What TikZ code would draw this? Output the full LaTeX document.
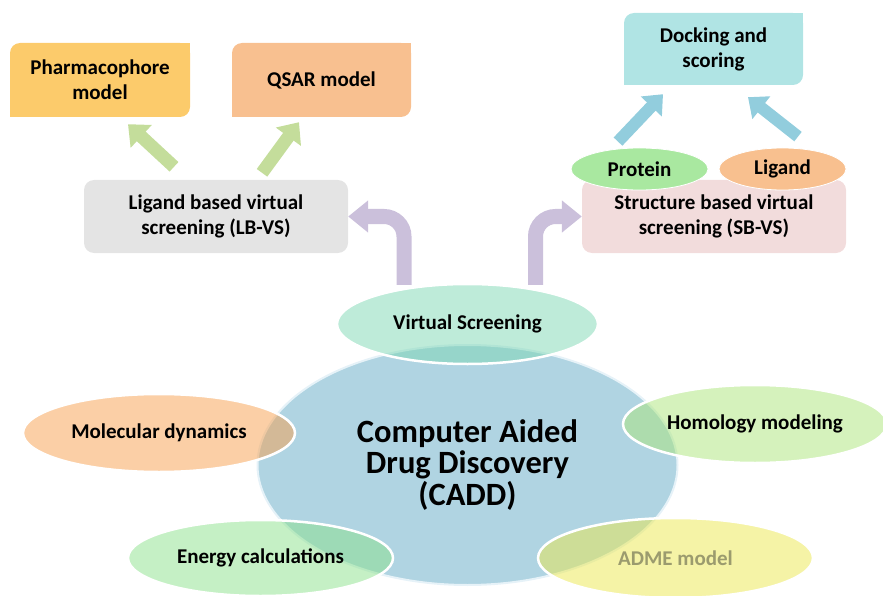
\documentclass[tikz,border=0pt]{standalone}
\usepackage{fontspec}
\setmainfont{Carlito}
\usepackage{tikz}
\usetikzlibrary{shapes.geometric,arrows.meta}
\definecolor{pharmfill}{RGB}{252,203,107}
\definecolor{qsarfill}{RGB}{248,192,144}
\definecolor{dockfill}{RGB}{176,228,228}
\definecolor{lbfill}{RGB}{228,228,228}
\definecolor{sbfill}{RGB}{242,220,220}
\definecolor{protfill}{RGB}{169,232,160}
\definecolor{ligfill}{RGB}{248,192,143}
\definecolor{garrow}{RGB}{196,221,155}
\definecolor{barrow}{RGB}{146,205,221}
\definecolor{parrow}{RGB}{203,192,219}
\definecolor{caddfill}{RGB}{176,212,226}
\definecolor{caddline}{RGB}{230,242,248}
\definecolor{mdfill}{RGB}{247,159,77}
\definecolor{enfill}{RGB}{139,225,139}
\definecolor{homfill}{RGB}{171,229,121}
\definecolor{admefill}{RGB}{235,231,77}
\definecolor{admetext}{RGB}{155,155,110}
\definecolor{vsfill}{RGB}{125,215,179}

\begin{document}
\begin{tikzpicture}[x=1pt, y=-1pt, font=\fontsize{21}{25}\selectfont\bfseries,
  box/.style={rounded corners=10pt, align=center, inner sep=0pt, minimum width=180pt, minimum height=74pt},
  oval/.style={ellipse, inner sep=0pt, align=center, draw=white, line width=2.5pt, fill opacity=0.5, text opacity=1},
  tag/.style={ellipse, inner sep=0pt, draw=white, line width=0.8pt},
  garr/.style={-{Triangle[length=18pt,width=30pt]}, line width=13pt, draw=garrow},
  barr/.style={-{Triangle[length=17pt,width=28pt]}, line width=12pt, draw=barrow},
  parr/.style={-{Triangle[length=20pt,width=31pt]}, line width=15pt, draw=parrow, rounded corners=20pt}]
\useasboundingbox (0,0) rectangle (883,596);
\node[box, fill=pharmfill] (pharm) at (100,80) {Pharmacophore\\model};
\node[box, fill=qsarfill, minimum width=179pt] (qsar) at (321.5,80) {QSAR model};
\node[box, fill=dockfill, minimum width=179pt, minimum height=72pt] (dock) at (713.5,49) {Docking and\\scoring};
\foreach \n/\c in {pharm/pharmfill, qsar/qsarfill, dock/dockfill} {
  \fill[\c] (\n.north east) rectangle ++(-12,12);
  \fill[\c] (\n.south west) rectangle ++(12,-12);
}
\node[box, fill=lbfill, minimum width=264pt, minimum height=73pt] (lbvs) at (216,216.5) {Ligand based virtual\\screening (LB-VS)};
\node[box, fill=sbfill, minimum width=264pt, minimum height=73pt] (sbvs) at (714,216.5) {Structure based virtual\\screening (SB-VS)};
\node[tag, fill=protfill, minimum width=137pt, minimum height=42pt] (prot) at (639.5,169) {Protein};
\node[tag, fill=ligfill, minimum width=127pt, minimum height=42pt] (lig) at (782.5,169) {Ligand};
\draw[garr] ([xshift=-42pt,yshift=13pt]lbvs.north) -- ([xshift=28pt,yshift=-7pt]pharm.south);
\draw[garr] ([xshift=46pt,yshift=7pt]lbvs.north) -- ([xshift=-22.5pt,yshift=-5pt]qsar.south);
\draw[barr] ([xshift=-21.5pt,yshift=6pt]prot.north) -- ([xshift=-50.5pt,yshift=-9pt]dock.south);
\draw[barr] ([xshift=15.5pt,yshift=11pt]lig.north) -- ([xshift=34.5pt,yshift=-12pt]dock.south);
\node[ellipse, fill=caddfill, draw=caddline, line width=2pt, minimum width=420pt, minimum height=240pt, inner sep=0pt, align=center, font=\fontsize{32.5}{31.5}\selectfont\bfseries] (cadd) at (467.5,465) {Computer Aided\\Drug Discovery\\(CADD)};
\node[oval, fill=mdfill, minimum width=272pt, minimum height=78pt] (md) at (159,433) {Molecular dynamics};
\node[oval, fill=enfill, minimum width=265pt, minimum height=76pt] (en) at (260.5,558) {Energy calculations};
\node[oval, fill=homfill, minimum width=264pt, minimum height=78pt] (hom) at (755,424) {Homology modeling};
\node[oval, fill=admefill, text=admetext, minimum width=275pt, minimum height=80pt] (adme) at (675.5,558) {ADME model};
\node[oval, fill=vsfill, minimum width=261pt, minimum height=80pt] (vs) at (467.5,324) {Virtual Screening};
\draw[parr] ([xshift=-63.5pt,yshift=-2pt]vs.north) |- (lbvs.east);
\draw[parr] ([xshift=68pt,yshift=-2pt]vs.north) |- (sbvs.west);
\end{tikzpicture}
\end{document}
